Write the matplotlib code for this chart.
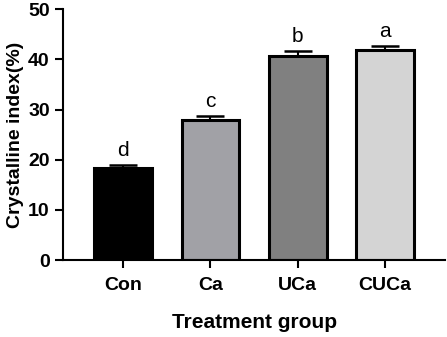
import numpy as np
import matplotlib.pyplot as plt

plt.rcParams['font.family'] = ['Liberation Sans', 'DejaVu Sans']

groups = ["Con", "Ca", "UCa", "CUCa"]
means = [18.3, 28.0, 40.6, 41.9]
errors = [0.6, 0.7, 1.1, 0.7]
letters = ["d", "c", "b", "a"]
colors = ["#000000", "#a1a1a6", "#808080", "#d4d4d4"]

fig = plt.figure(figsize=(4.47, 3.37), dpi=100)
ax = fig.add_axes([0.141, 0.228, 0.855, 0.745])

x = np.arange(len(groups))
ax.bar(x, means, width=0.66, color=colors, edgecolor="black", linewidth=2.2, zorder=2)
ax.errorbar(x, means, yerr=[np.zeros(len(errors)), errors], fmt="none",
            ecolor="black", elinewidth=1.5, capsize=10, capthick=1.8, zorder=1)

for xi, m, e, lt in zip(x, means, errors, letters):
    ax.text(xi, m + e + 1.0, lt, ha="center", va="bottom", fontsize=15)

ax.set_xlim(-0.69, 3.69)
ax.set_ylim(0, 50)
ax.set_yticks([0, 10, 20, 30, 40, 50])
ax.set_xticks(x)
ax.set_xticklabels(groups, fontsize=14, fontweight="bold")
for lab in ax.get_yticklabels():
    lab.set_fontsize(14)
    lab.set_fontweight("bold")

ax.spines["top"].set_visible(False)
ax.spines["right"].set_visible(False)
ax.spines["left"].set_linewidth(1.5)
ax.spines["bottom"].set_linewidth(1.5)
ax.tick_params(axis="both", width=1.5, length=6, direction="out")
ax.tick_params(axis="x", pad=6)

ax.set_ylabel("Crystalline index(%)", fontsize=14, fontweight="bold", labelpad=3)
ax.set_xlabel("Treatment group", fontsize=15, fontweight="bold", labelpad=14)

fig.savefig("out.png", dpi=100)
